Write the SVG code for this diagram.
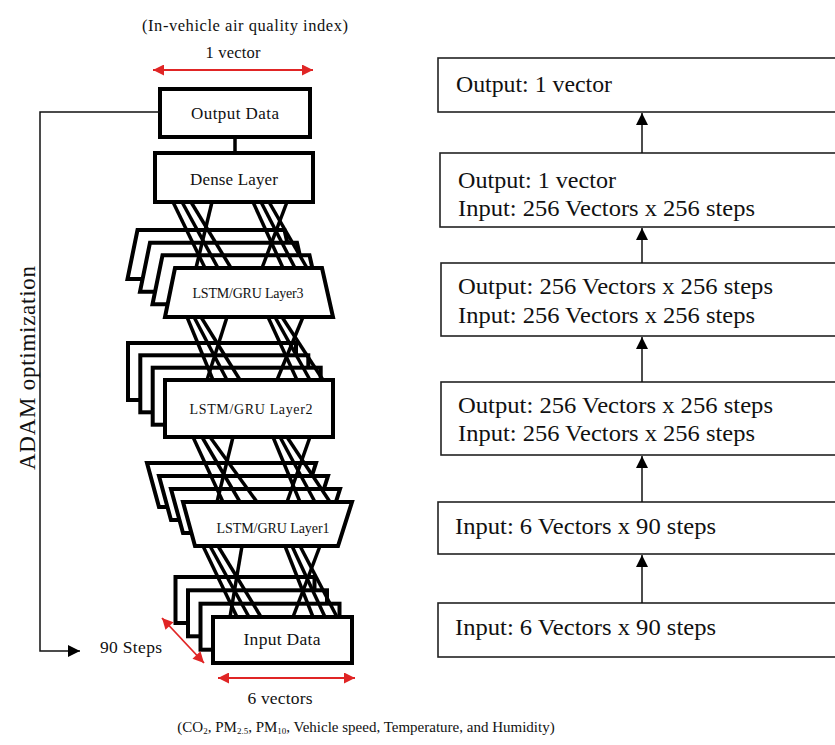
<svg xmlns="http://www.w3.org/2000/svg" xmlns:xlink="http://www.w3.org/1999/xlink" width="835" height="745" viewBox="0 0 835 745" font-family="'Liberation Serif', 'Times New Roman', serif">
<style>
  text { font-family: "Liberation Serif", "Times New Roman", serif; fill: #111; }
  .box { fill: #fff; stroke: #000; stroke-width: 4; stroke-linejoin: miter; }
  .rbox { fill: #fff; stroke: #222; stroke-width: 1.6; }
  .conn { stroke: #000; stroke-width: 3.5; fill: none; }
  .thin { stroke: #111; stroke-width: 1.5; fill: none; }
  .red { stroke: #e02525; stroke-width: 1.8; fill: none; }
  .rt { font-size: 23px; }
  .lbl { font-size: 14px; }
</style>
<defs>
  <marker id="blkL" viewBox="0 0 10 10" refX="10" refY="5" markerWidth="12" markerHeight="12" markerUnits="userSpaceOnUse" orient="auto">
    <path d="M0,0 L10,5 L0,10 z" fill="#000"/>
  </marker>
  <marker id="redh" viewBox="0 0 10 10" refX="10" refY="5" markerWidth="13" markerHeight="11" markerUnits="userSpaceOnUse" orient="auto-start-reverse">
    <path d="M0,0 L10,5 L0,10 z" fill="#e02525"/>
  </marker>
  <polygon id="trap3" points="10,0 157,0 168,49 0,49"/>
  <polygon id="trap1" points="0,0 169,0 155,44 12,44"/>
</defs>

<!-- top annotations -->
<text x="245" y="31" font-size="16.5" text-anchor="middle" textLength="206">(In-vehicle air quality index)</text>
<text x="233" y="58" font-size="16.5" text-anchor="middle" textLength="55">1 vector</text>
<line class="red" x1="153" y1="70" x2="313" y2="70" marker-start="url(#redh)" marker-end="url(#redh)"/>

<g id="output-data">
  <rect class="box" x="160" y="89" width="150" height="48"/>
  <text x="235" y="119" font-size="17" text-anchor="middle" textLength="88">Output Data</text>
</g>

<g id="dense-layer">
  <rect class="box" x="155" y="153" width="158" height="49"/>
  <text x="234" y="185" font-size="17" text-anchor="middle" textLength="88">Dense Layer</text>
</g>

<g id="lstm-layer3">
  <use href="#trap3" class="box" x="127.5" y="230"/>
  <use href="#trap3" class="box" x="140" y="242.7"/>
  <use href="#trap3" class="box" x="152.5" y="255.3"/>
  <use href="#trap3" class="box" x="165" y="268"/>
  <text x="248" y="298" class="lbl" text-anchor="middle" textLength="111">LSTM/GRU Layer3</text>
</g>

<g id="lstm-layer2">
  <rect class="box" x="128" y="343" width="168" height="57"/>
  <rect class="box" x="140.3" y="355.3" width="168" height="57"/>
  <rect class="box" x="152.7" y="367.7" width="168" height="57"/>
  <rect class="box" x="165" y="380" width="168" height="57"/>
  <text x="251" y="414" class="lbl" text-anchor="middle" textLength="123">LSTM/GRU Layer2</text>
</g>

<g id="lstm-layer1">
  <use href="#trap1" class="box" x="147" y="463"/>
  <use href="#trap1" class="box" x="159" y="476"/>
  <use href="#trap1" class="box" x="171" y="489"/>
  <use href="#trap1" class="box" x="183" y="502"/>
  <text x="273" y="533" class="lbl" text-anchor="middle" textLength="113">LSTM/GRU Layer1</text>
</g>

<g id="input-data">
  <rect class="box" x="175.5" y="577" width="139" height="46"/>
  <rect class="box" x="188" y="590.3" width="139" height="46"/>
  <rect class="box" x="200.5" y="603.7" width="139" height="46"/>
  <rect class="box" x="213" y="617" width="139" height="46"/>
  <text x="282" y="645" font-size="17.5" text-anchor="middle" textLength="77">Input Data</text>
</g>

<!-- bottom annotations -->
<text x="100" y="653" font-size="17.5" textLength="62">90 Steps</text>
<line class="red" x1="162" y1="618" x2="204" y2="663" marker-start="url(#redh)" marker-end="url(#redh)"/>
<line class="red" x1="218" y1="678" x2="355" y2="678" marker-start="url(#redh)" marker-end="url(#redh)"/>
<text x="280" y="704" font-size="17.5" text-anchor="middle" textLength="65">6 vectors</text>
<text x="366" y="732" font-size="15" text-anchor="middle">(CO<tspan font-size="9" dy="2">2</tspan><tspan dy="-2">, PM</tspan><tspan font-size="9" dy="2">2.5</tspan><tspan dy="-2">, PM</tspan><tspan font-size="9" dy="2">10</tspan><tspan dy="-2">, Vehicle speed, Temperature, and Humidity)</tspan></text>

<text transform="translate(35,368) rotate(-90)" font-size="23" text-anchor="middle" textLength="204">ADAM optimization</text>

<!-- right column -->
<g id="r-box1">
  <rect class="rbox" x="438" y="58" width="400" height="54"/>
  <text class="rt" x="456" y="92" textLength="156" lengthAdjust="spacingAndGlyphs">Output: 1 vector</text>
</g>
<g id="r-box2">
  <rect class="rbox" x="440" y="153" width="400" height="74"/>
  <text class="rt" x="458" y="188" textLength="158" lengthAdjust="spacingAndGlyphs">Output: 1 vector</text>
  <text class="rt" x="458" y="216" textLength="297" lengthAdjust="spacingAndGlyphs">Input: 256 Vectors x 256 steps</text>
</g>
<g id="r-box3">
  <rect class="rbox" x="441" y="263" width="400" height="73"/>
  <text class="rt" x="458" y="294" textLength="315" lengthAdjust="spacingAndGlyphs">Output: 256 Vectors x 256 steps</text>
  <text class="rt" x="458" y="323" textLength="297" lengthAdjust="spacingAndGlyphs">Input: 256 Vectors x 256 steps</text>
</g>
<g id="r-box4">
  <rect class="rbox" x="441" y="382" width="400" height="73"/>
  <text class="rt" x="458" y="413" textLength="315" lengthAdjust="spacingAndGlyphs">Output: 256 Vectors x 256 steps</text>
  <text class="rt" x="458" y="441" textLength="297" lengthAdjust="spacingAndGlyphs">Input: 256 Vectors x 256 steps</text>
</g>
<g id="r-box5">
  <rect class="rbox" x="438" y="502" width="400" height="52"/>
  <text class="rt" x="455" y="534" textLength="261" lengthAdjust="spacingAndGlyphs">Input: 6 Vectors x 90 steps</text>
</g>
<g id="r-box6">
  <rect class="rbox" x="438" y="603" width="400" height="54"/>
  <text class="rt" x="455" y="635" textLength="261" lengthAdjust="spacingAndGlyphs">Input: 6 Vectors x 90 steps</text>
</g>

<g id="connectors">
  <line class="conn" x1="235" y1="137" x2="235" y2="153"/>
  <!-- dense -> layer3 -->
  <line class="conn" x1="173" y1="202" x2="205" y2="268"/>
  <line class="conn" x1="182" y1="202" x2="218" y2="268"/>
  <line class="conn" x1="191" y1="202" x2="231" y2="268"/>
  <line class="conn" x1="212" y1="202" x2="196" y2="268"/>
  <line class="conn" x1="253" y1="202" x2="283" y2="268"/>
  <line class="conn" x1="261" y1="202" x2="295" y2="268"/>
  <line class="conn" x1="269" y1="202" x2="307" y2="268"/>
  <line class="conn" x1="287" y1="202" x2="262" y2="268"/>
  <!-- layer3 -> layer2 -->
  <line class="conn" x1="187" y1="317" x2="213" y2="380"/>
  <line class="conn" x1="194" y1="317" x2="227" y2="380"/>
  <line class="conn" x1="201" y1="317" x2="240" y2="380"/>
  <line class="conn" x1="227" y1="317" x2="207" y2="380"/>
  <line class="conn" x1="268" y1="317" x2="297" y2="380"/>
  <line class="conn" x1="275" y1="317" x2="310" y2="380"/>
  <line class="conn" x1="282" y1="317" x2="323" y2="380"/>
  <line class="conn" x1="303" y1="317" x2="277" y2="380"/>
  <!-- layer2 -> layer1 -->
  <line class="conn" x1="193" y1="437" x2="223" y2="502"/>
  <line class="conn" x1="202" y1="437" x2="240" y2="502"/>
  <line class="conn" x1="210" y1="437" x2="257" y2="502"/>
  <line class="conn" x1="233" y1="437" x2="217" y2="502"/>
  <line class="conn" x1="273" y1="437" x2="300" y2="502"/>
  <line class="conn" x1="280" y1="437" x2="315" y2="502"/>
  <line class="conn" x1="287" y1="437" x2="330" y2="502"/>
  <line class="conn" x1="310" y1="437" x2="287" y2="502"/>
  <!-- layer1 -> input -->
  <line class="conn" x1="203" y1="546" x2="237" y2="617"/>
  <line class="conn" x1="210" y1="546" x2="249" y2="617"/>
  <line class="conn" x1="218" y1="546" x2="261" y2="617"/>
  <line class="conn" x1="242" y1="546" x2="230" y2="617"/>
  <line class="conn" x1="285" y1="546" x2="313" y2="617"/>
  <line class="conn" x1="292" y1="546" x2="325" y2="617"/>
  <line class="conn" x1="300" y1="546" x2="337" y2="617"/>
  <line class="conn" x1="320" y1="546" x2="293" y2="617"/>
  <!-- feedback -->
  <polyline class="thin" points="160,112 40,112 40,651 80,651" marker-end="url(#blkL)"/>
  <!-- right column arrows -->
  <line class="thin" x1="642" y1="153" x2="642" y2="113" marker-end="url(#blkL)"/>
  <line class="thin" x1="642" y1="263" x2="642" y2="228" marker-end="url(#blkL)"/>
  <line class="thin" x1="642" y1="382" x2="642" y2="337" marker-end="url(#blkL)"/>
  <line class="thin" x1="642" y1="502" x2="642" y2="456" marker-end="url(#blkL)"/>
  <line class="thin" x1="642" y1="603" x2="642" y2="555" marker-end="url(#blkL)"/>
</g>
</svg>
